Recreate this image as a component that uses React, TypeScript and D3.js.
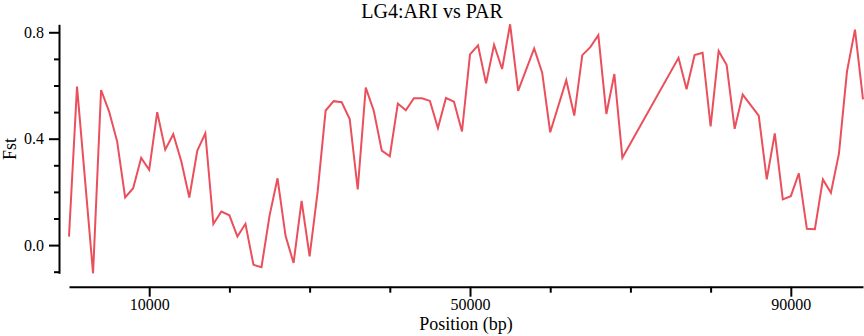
import React, { useEffect, useRef } from "react";
import * as d3 from "d3";

const title = "LG4:ARI vs PAR";
const xLabel = "Position (bp)";
const yLabel = "Fst";

// window positions (bp) and Fst values
const positions = [
  0, 1000, 3000, 4000, 5000, 6000, 7000, 8000, 9000, 10000,
  11000, 12000, 13000, 14000, 15000, 16000, 17000, 18000, 19000, 20000,
  21000, 22000, 23000, 24000, 25000, 26000, 27000, 28000, 29000, 30000,
  31000, 32000, 33000, 34000, 35000, 36000, 37000, 38000, 39000, 40000,
  41000, 42000, 43000, 44000, 45000, 46000, 47000, 48000, 49000, 50000,
  51000, 52000, 53000, 54000, 55000, 56000, 58000, 59000, 60000, 62000,
  63000, 64000, 65000, 66000, 67000, 68000, 69000, 76000, 77000, 78000,
  79000, 80000, 81000, 82000, 83000, 84000, 86000, 87000, 88000, 89000,
  90000, 91000, 92000, 93000, 94000, 95000, 96000, 97000, 98000, 99000,
];
const fst = [
  0.032, 0.596, -0.106, 0.583, 0.502, 0.39, 0.179, 0.214, 0.328, 0.283,
  0.5, 0.359, 0.417, 0.315, 0.179, 0.355, 0.42, 0.079, 0.126, 0.112,
  0.032, 0.08, -0.074, -0.083, 0.11, 0.251, 0.035, -0.067, 0.166, -0.042,
  0.2, 0.506, 0.541, 0.537, 0.474, 0.209, 0.592, 0.505, 0.355, 0.334,
  0.532, 0.507, 0.552, 0.552, 0.542, 0.44, 0.553, 0.539, 0.427, 0.717,
  0.751, 0.608, 0.753, 0.662, 0.83, 0.58, 0.739, 0.648, 0.424, 0.62,
  0.487, 0.714, 0.744, 0.789, 0.493, 0.643, 0.328, 0.704, 0.586, 0.714,
  0.723, 0.446, 0.73, 0.677, 0.437, 0.566, 0.487, 0.247, 0.42, 0.172,
  0.184, 0.27, 0.061, 0.06, 0.247, 0.197, 0.344, 0.652, 0.81, 0.548,
];

const xTicks = [10000, 20000, 30000, 40000, 50000, 60000, 70000, 80000, 90000];
const xTickLabels = [10000, 50000, 90000];
const yTicks = [-0.1, 0, 0.1, 0.2, 0.3, 0.4, 0.5, 0.6, 0.7, 0.8];
const yTickLabels = [0, 0.4, 0.8];

const W = 864;
const H = 336;
const FONT = "'Liberation Serif', 'Times New Roman', serif";

const App = () => {
  const ref = useRef<SVGSVGElement>(null);

  useEffect(() => {
    const svg = d3.select(ref.current);
    svg.selectAll("*").remove();

    const data = positions.map((p, i) => ({ pos: p, v: fst[i] }));

    const x = d3.scaleLinear()
      .domain(d3.extent(positions) as [number, number])
      .range([69, 863]);
    const y = d3.scaleLinear()
      .domain(d3.extent(fst) as [number, number])
      .range([273.3, 24.3]);

    // y axis, offset left of the plot
    const yAxis = svg.append("g")
      .attr("transform", "translate(59,0)")
      .call(
        d3.axisLeft(y)
          .tickValues(yTicks)
          .tickSizeOuter(0)
          .tickSizeInner(5)
          .tickPadding(10)
          .tickFormat((d) => (yTickLabels.some(t => Math.abs(t - +d) < 1e-9) ? d3.format(".1f")(+d) : ""))
      );
    yAxis.selectAll(".tick")
      .filter((d: any) => yTickLabels.some(t => Math.abs(t - d) < 1e-9))
      .select("line")
      .attr("x2", -10);

    // x axis, offset below the plot
    const xAxis = svg.append("g")
      .attr("transform", "translate(0,286.7)")
      .call(
        d3.axisBottom(x)
          .tickValues(xTicks)
          .tickSizeOuter(0)
          .tickSizeInner(6)
          .tickPadding(6)
          .tickFormat((d) => (xTickLabels.includes(+d) ? String(d) : ""))
      );
    xAxis.selectAll(".tick")
      .filter((d: any) => xTickLabels.includes(d))
      .select("line")
      .attr("y2", 10);

    [xAxis, yAxis].forEach(a => {
      a.select(".domain").attr("stroke", "#000").attr("stroke-width", 2);
      a.selectAll(".tick line").attr("stroke", "#000").attr("stroke-width", 2);
      a.selectAll(".tick text")
        .attr("fill", "#000")
        .style("font-family", FONT)
        .style("font-size", "16px");
    });

    const line = d3.line<{ pos: number; v: number }>()
      .x(d => x(d.pos))
      .y(d => y(d.v));

    svg.append("path")
      .datum(data)
      .attr("d", line)
      .attr("fill", "none")
      .attr("stroke", "#ea4f5c")
      .attr("stroke-width", 2)
      .attr("stroke-linejoin", "miter");

    svg.append("text")
      .attr("x", W / 2)
      .attr("y", 18)
      .attr("text-anchor", "middle")
      .style("font-family", FONT)
      .style("font-size", "20px")
      .text(title);

    svg.append("text")
      .attr("x", (69 + 863) / 2)
      .attr("y", 330)
      .attr("text-anchor", "middle")
      .style("font-family", FONT)
      .style("font-size", "18px")
      .text(xLabel);

    svg.append("text")
      .attr("transform", "translate(15.5,149) rotate(-90)")
      .attr("text-anchor", "middle")
      .style("font-family", FONT)
      .style("font-size", "18px")
      .text(yLabel);
  }, []);

  return (
    <svg
      ref={ref}
      width={W}
      height={H}
      style={{ position: "absolute", left: 0, top: 0, background: "#fff" }}
    />
  );
};

export default App;
